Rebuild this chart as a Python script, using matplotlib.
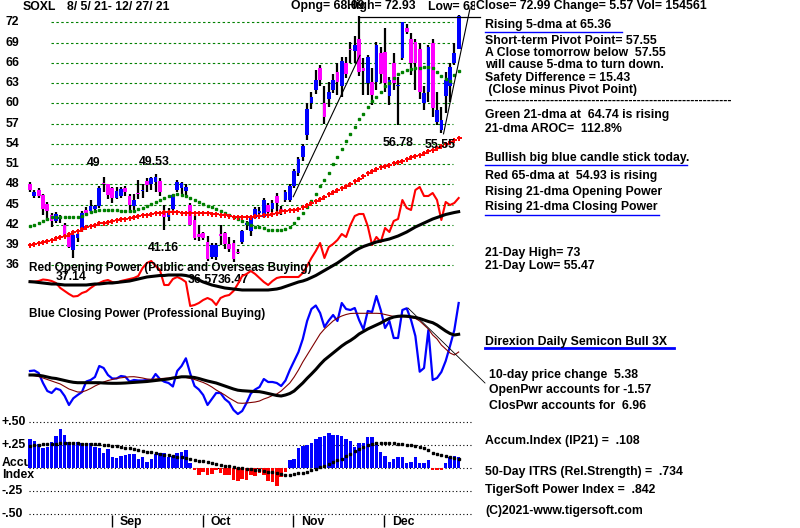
import matplotlib
matplotlib.use("Agg")
import matplotlib.pyplot as plt
from matplotlib.transforms import blended_transform_factory as blend

plt.rcParams['font.family'] = ['Liberation Sans', 'DejaVu Sans']
plt.rcParams['font.weight'] = 'bold'

W, H = 800, 528
FS = 8.8

# ---------------- data ----------------
opens = [48.1,46.3,47.2,46.4,45.1,43.4,42.6,42.8,42.0,40.5,
 38.3,40.0,41.3,44.2,44.1,44.4,44.8,48.2,48.0,47.4,
 46.0,46.2,47.4,46.2,44.8,46.7,47.0,48.5,48.1,48.3,
 48.5,43.9,43.2,44.4,47.2,47.4,47.0,45.0,42.7,40.6,
 40.8,39.5,37.3,37.2,40.6,40.8,39.1,39.3,38.0,39.5,
 41.9,41.1,43.0,43.8,43.2,44.9,44.4,46.2,44.4,45.7,
 45.7,47.7,49.6,52.1,55.3,60.0,62.0,65.3,60.0,60.6,
 62.0,64.7,62.5,65.9,68.1,67.8,69.5,65.2,63.0,63.2,
 63.2,67.4,67.6,61.1,65.9,62.5,66.7,71.1,69.5,69.1,
 68.0,60.0,61.7,69.0,57.3,56.1,61.1,62.5,65.9,68.09]
highs = [48.4,47.2,47.5,46.6,45.4,43.7,43.9,43.5,42.2,40.8,
 40.8,40.8,44.0,44.6,45.7,45.0,47.8,49.04,48.1,47.6,
 47.6,47.6,47.7,46.5,46.5,48.6,48.0,48.9,49.1,49.53,
 48.9,45.0,44.5,46.6,48.6,48.4,48.0,45.3,43.5,42.0,
 41.0,40.4,39.3,39.3,42.0,41.0,40.2,39.8,38.4,41.3,
 42.6,43.2,44.6,44.7,45.9,45.3,45.7,46.7,44.8,47.2,
 48.0,50.2,52.0,54.0,60.0,61.7,64.9,65.7,62.6,63.2,
 64.4,65.9,66.9,66.9,69.1,69.9,72.93,66.7,67.2,65.2,
 69.1,68.4,71.1,63.9,67.4,63.9,72.1,71.8,70.4,69.5,
 69.0,62.5,68.6,69.5,61.7,59.5,64.7,65.9,68.9,73.1]
lows = [46.9,46.0,45.9,43.5,42.6,41.6,42.2,42.3,40.0,38.5,
 37.14,39.5,41.0,43.5,43.7,43.8,44.5,46.9,45.8,45.3,
 45.8,45.9,46.2,43.7,44.2,45.8,45.9,46.9,47.2,46.9,
 46.2,41.16,42.5,44.0,46.8,46.6,46.4,41.9,39.8,39.6,
 39.8,36.57,36.9,36.8,39.0,38.4,37.9,36.47,37.6,39.2,
 41.2,40.4,42.8,43.5,43.0,43.6,43.9,43.4,43.5,45.4,
 45.4,47.4,49.3,51.5,54.6,59.1,61.4,62.6,57.0,59.4,
 61.5,61.2,61.0,63.7,65.9,65.9,64.0,61.2,61.2,59.7,
 62.0,63.0,61.7,59.7,62.0,56.78,66.4,70.2,64.2,62.0,
 60.7,59.0,60.2,58.0,56.8,55.55,58.5,60.2,65.7,68.0]
closes = [47.2,46.8,46.2,44.4,44.1,42.6,43.6,43.2,40.3,38.7,
 40.5,40.6,43.8,43.8,44.8,44.8,47.4,48.0,46.4,46.0,
 47.0,47.3,46.8,45.0,45.7,46.6,47.2,47.9,48.9,49.1,
 46.9,43.2,43.9,46.4,48.4,48.2,47.6,42.0,40.0,40.2,
 40.1,37.0,39.0,39.0,40.4,39.2,38.4,37.0,37.8,41.1,
 42.2,43.0,44.4,44.0,45.7,43.9,45.2,45.2,44.2,46.9,
 47.7,49.9,51.8,53.7,59.1,60.9,63.5,63.4,58.0,61.7,
 63.4,63.2,66.2,64.4,67.9,68.6,64.7,64.8,66.9,61.2,
 68.6,64.4,63.0,63.4,63.0,62.7,72.0,70.6,65.9,65.9,
 61.7,61.5,68.3,59.3,59.0,57.5,63.5,65.4,67.42,72.99]

ma21 = [41.8,42.0,42.3,42.6,42.9,43.1,43.2,43.2,43.2,43.2,
 43.2,43.2,43.3,43.6,43.9,44.1,44.2,44.2,44.2,44.2,
 44.2,44.1,44.0,44.0,44.1,44.3,44.5,44.8,45.1,45.4,
 45.7,46.0,46.2,46.4,46.5,46.4,46.2,45.9,45.7,45.4,
 45.1,44.8,44.6,44.3,44.1,43.8,43.5,43.2,42.9,42.6,
 42.3,42.0,41.7,41.6,41.5,41.3,41.2,41.2,41.2,41.4,
 41.7,42.2,43.0,43.7,44.6,45.5,46.6,47.7,48.7,49.6,
 51.0,52.1,53.2,54.4,55.5,56.5,57.6,58.4,59.4,60.3,
 61.0,61.6,62.5,63.0,63.7,64.3,64.7,64.9,65.1,65.2,
 65.3,65.4,65.4,65.2,64.7,64.1,63.6,63.3,64.2,64.74]
ma65 = [39.0,39.15,39.3,39.45,39.6,39.8,40.0,40.2,40.4,40.6,
 40.9,41.1,41.4,41.6,41.8,42.0,42.2,42.3,42.45,42.55,
 42.7,42.8,42.9,43.05,43.2,43.3,43.4,43.5,43.6,43.7,
 43.75,43.85,43.9,43.9,43.85,43.8,43.8,43.8,43.8,43.8,
 43.75,43.7,43.65,43.6,43.5,43.4,43.3,43.2,43.2,43.2,
 43.2,43.2,43.25,43.3,43.4,43.5,43.6,43.8,44.0,44.1,
 44.15,44.2,44.3,44.6,44.9,45.2,45.5,45.8,46.1,46.5,
 46.9,47.2,47.5,47.8,48.1,48.5,48.8,49.2,49.6,49.9,
 50.2,50.5,50.7,50.9,51.1,51.3,51.5,51.8,52.0,52.2,
 52.4,52.7,52.9,53.1,53.4,53.7,54.0,54.3,54.6,54.93]

open_power = [18.3,18.3,19,20.5,20,19,17,12,9,6,
 3.5,4,7,8.5,12,15,17,19,20,18,
 17,19,20,21,22,24,32,37,39,34,
 30,15,15,21,23,21,18,-6,-5,-3,
 0,2,0,-5,2,4,5,9,16,24,
 26,29,26,22,18,15,19,22,23,23,
 23,23,23,27,34,42,49,57,42,53,
 56,60,66,63,75,84,86,86,74,55,
 63,58,72,68,79,81,100,92,90,110,
 113,104,104,107,100,80,98,95,97,102]
open_power_ma = [18.3,18,17.5,17,16.5,16,16,15.5,15,15,
 15,15,15,15,15.5,16,16,16.5,17,17,
 17.5,18,18.5,19,20,21,22,23,23.5,24,
 24.5,24.5,25,25,25,25,24.5,23.5,22,20,
 18,16.5,15,14,13,12,11.5,11,10.5,10,
 10,10,10,10,10,10,10.5,11,12,13.5,
 15,16.5,18,19,20.5,22.5,24.5,27,29.5,32,
 34.5,37,40,43,46,49,51.5,53.5,55,56.5,
 58,59,60,61,62.5,64,66,68,70.5,73,
 75,77,79,81,82.5,84,85.5,86.5,87.5,88.3]

close_power = [49,49.5,47,37,29,27,31.5,30,24,15,
 21.7,25,28,38.5,40,43,54,52,45,41.5,
 41.5,44,43.3,38.5,40,39.5,39.5,40,39.3,46,
 41,38.3,37,33.5,49,54,61.7,46.5,34,30.5,
 25,15,21,27,27,21,17.5,10,6,9,
 17,26.5,30.5,33,41,38,38,37,34,39.5,
 50,59,68,81,99,111,114.5,107,93,99.5,
 105,99,117,111,110,112,100,90.5,109,108,
 124,110,92,99,82,82,110,111.7,100,84,
 48.3,52,90,40,42,48,59,74,90,117]
close_power_ma21 = [45,44.2,43.4,42,40.5,39,37.5,36,33.5,31,
 29.5,28,28,29.5,31.5,34,36,38,39.5,40.5,
 41.7,42.2,42.7,43.2,43.3,42.7,42,41,40.7,41,
 41.3,41.7,42,42.5,43,43.3,42.5,41.5,40.5,39,
 37.5,35.5,33,30,27.5,25,22,19.5,17,16.7,
 17,17.5,18,19,21,22.5,24.5,26,29,33,
 37,43,50,58,65,72,79,86,91,95,
 99,102,104,105.5,106.5,106.7,106.7,106.7,106.7,106.7,
 106.7,106.5,105.5,104.5,103.5,103.3,103.3,103,102.5,101.7,
 99,95,91,85,81,75,71,67,65,68]
close_power_ma65 = [45,45,44.7,44,43,42,41.5,40.5,39.5,38.5,
 37.7,37.3,37.3,37.3,37.3,37.3,37.3,37,36.8,36.7,
 36.7,36.8,37,37.3,37.6,37.9,38.2,38.5,39,39.5,
 40,40.5,41,42,42.5,43.2,43.2,43,42.5,41.5,
 40.2,39,38,37,35.5,34,32.5,31,29.8,29.3,
 29,28.7,28.5,28.3,27.5,26.5,25.5,24.5,24,25,
 26.5,29,33,37,41.7,46,50.5,55.5,60,63.5,
 67,70.5,74,77,79.5,82.5,86,88.5,91,93,
 95,97,99.5,101.5,103,103.7,104,103.8,103.2,102.5,
 101.5,100,98.5,97.3,95,92,89,86.5,85,85.7]

accum = [.319,.30,.264,.217,.236,.29,.351,.427,.362,.29,
 .27,.29,.279,.27,.27,.228,.217,.163,.206,.127,
 .116,.134,.145,.156,.156,.098,.12,.072,.098,.152,
 .163,.163,.12,.134,.163,.181,.20,.062,-.018,-.072,
 -.036,-.072,-.062,-.018,-.054,-.072,-.072,-.127,-.134,-.12,
 -.127,-.072,-.083,-.054,-.072,-.138,-.145,-.188,-.09,-.036,
 .09,.10,.217,.243,.254,.279,.319,.344,.351,.388,
 .362,.362,.351,.315,.30,.236,.279,.279,.344,.344,
 .29,.181,.134,.072,.098,.12,.12,.054,.072,.12,
 .062,.054,.09,-.02,-.02,-.02,.054,.12,.134,.12]
accum_ma = [.243,.25,.255,.26,.262,.265,.268,.27,.27,.27,
 .27,.27,.268,.266,.265,.264,.262,.258,.252,.246,
 .24,.233,.225,.218,.21,.2,.19,.182,.175,.165,
 .155,.148,.14,.133,.126,.12,.11,.10,.092,.083,
 .075,.066,.057,.048,.04,.03,.02,.01,.005,0,
 -.008,-.012,-.016,-.022,-.03,-.036,-.045,-.055,-.065,-.072,
 -.068,-.063,-.055,-.047,-.035,-.02,-.005,.012,.03,.05,
 .07,.085,.10,.13,.16,.185,.21,.235,.255,.265,
 .272,.277,.279,.278,.273,.268,.262,.256,.248,.24,
 .232,.22,.20,.17,.155,.145,.135,.125,.115,.10]

price_ticks = [72, 69, 66, 63, 60, 57, 54, 51, 48, 45, 42, 39, 36]
accum_ticks = [0.50, 0.25, 0.0, -0.25, -0.50]
accum_tick_labels = ["+.50", "+.25", "", "-.25", "-.50"]
months = ["Sep", "Oct", "Nov", "Dec"]
month_start = [19, 40, 61, 82]

high_labels = [(14.7, 51.1, "49"), (28.75, 51.35, "49.53")]
low_labels = [(9.6, 34.3, "37.14"), (30.8, 38.5, "41.16"), (40.1, 33.75, "36.57"),
              (46.9, 33.75, "36.47"), (84.9, 54.07, "56.78"), (94.7, 53.8, "55.55")]

# ---------------- layout helpers ----------------
fig = plt.figure(figsize=(W / 100, H / 100), dpi=100)
fig.patch.set_facecolor("white")

X0_PX, STEP = 30.0, 4.33
L_PX, R_PX = 28, 490
XLIM = ((L_PX - X0_PX) / STEP, (R_PX - X0_PX) / STEP)


def px2idx(p):
    return (p - X0_PX) / STEP


def add_ax(top, bottom, ylim, z=1):
    ax = fig.add_axes([L_PX / W, 1 - bottom / H, (R_PX - L_PX) / W, (bottom - top) / H])
    ax.set_xlim(*XLIM)
    ax.set_ylim(*ylim)
    ax.axis("off")
    ax.set_zorder(z)
    return ax


def ftext(x, y, s, **kw):
    kw.setdefault("fontsize", FS)
    kw.setdefault("fontweight", "bold")
    return fig.text(x / W, 1 - y / H, s, ha=kw.pop("ha", "left"), va=kw.pop("va", "center"), **kw)


days = list(range(len(closes)))
BLUE, MAG, RED, GREEN = "#0000FF", "#FF00FF", "#FF0000", "#008000"

# ---------------- price panel ----------------
axp = add_ax(0, 280, (33.82, 75.30))
axp.hlines(price_ticks, px2idx(50.7), px2idx(453), colors=GREEN, lw=0.8,
           linestyles=(0, (2.2, 2.2)), zorder=1)
axp.vlines(days, lows, highs, colors="black", lw=1.6, zorder=3)
for i in days:
    o, c = opens[i], closes[i]
    bot = min(o, c)
    hgt = max(abs(c - o), 0.18)
    axp.bar(i, hgt, bottom=bot, width=0.85, color=BLUE if c >= o else MAG,
            linewidth=0, zorder=4)
axp.plot(days, ma21, ls="none", marker="s", ms=1.6, color=GREEN, zorder=5)
axp.plot(days, ma65, ls="none", marker="+", ms=3.6, mew=1.4, color=RED, zorder=5)
# trend lines
axp.plot([60.8, 76.2], [46.16, 67.1], color="black", lw=0.8, zorder=6)
axp.plot([76.2, px2idx(480)], [72.74, 72.74], color="black", lw=0.9, zorder=6, clip_on=False)
axp.plot([95.5, 101.6], [55.47, 74.0], color="black", lw=0.8, zorder=6)

trp = blend(fig.transFigure, axp.transData)
for v in price_ticks:
    fig.text(6 / W, v, str(v), transform=trp, ha="left", va="center",
             fontsize=FS, fontweight="bold")
for x, y, s in high_labels + low_labels:
    axp.text(x, y, s, ha="center", va="center", fontsize=FS,
             fontweight="bold", zorder=7, clip_on=False)

# ---------------- opening power ----------------
axo = add_ax(170, 310, (-10, 130), z=2)
axo.plot(days, open_power, color=RED, lw=1.5, zorder=3)
axo.plot(days, open_power_ma, color="black", lw=2.2, zorder=4)

# ---------------- closing power ----------------
axc = add_ax(285, 420, (0, 135), z=2)
axc.plot(days, close_power, color=BLUE, lw=1.6, zorder=3)
axc.plot(days, close_power_ma21, color="#800000", lw=0.8, zorder=4)
axc.plot(days, close_power_ma65, color="black", lw=2.2, zorder=5)
axc.plot([87.3, px2idx(485)], [112, 37], color="black", lw=0.6, zorder=6, clip_on=False)

# ---------------- accumulation index ----------------
ka = 0.25 / 23.0
axa = add_ax(410, 520, ((468.3 - 520) * ka, (468.3 - 410) * ka), z=2)
axa.hlines(accum_ticks, px2idx(29), px2idx(472), colors="black", lw=0.8,
           linestyles=(0, (1, 2.2)), zorder=1)
axa.bar(days, accum, width=0.8, color=[BLUE if a >= 0 else RED for a in accum],
        linewidth=0, zorder=3)
axa.plot(days, accum_ma, ls="none", marker="s", ms=1.7, color="black", zorder=4)
tra = blend(fig.transFigure, axa.transData)
for v, s in zip(accum_ticks, accum_tick_labels):
    if s:
        fig.text(2 / W, v, s, transform=tra, ha="left", va="center",
                 fontsize=FS, fontweight="bold")
ftext(2, 462.7, "Accu", zorder=0)
ftext(2, 475, "Index", zorder=0)

# ---------------- date axis ----------------
axd = add_ax(514, 528, (0, 1))
for m, s in zip(month_start, months):
    axd.vlines(m - 0.15, 0.05, 0.95, colors="black", lw=1)
    axd.text(m + 1.7, 0.45, s, ha="left", va="center", fontsize=FS, fontweight="bold")

# ---------------- texts ----------------
ftext(22.7, 6.5, "SOXL")
ftext(66.7, 6.5, "8/ 5/ 21- 12/ 27/ 21")
ftext(291, 6.5, "Opng= 68.09")
ftext(347, 6.5, "High= 72.93")
ftext(428, 6.5, "Low= 68.00")
ftext(476, 6.5, "Close= 72.99 Change= 5.57 Vol= 154561", zorder=5,
      bbox=dict(facecolor="white", edgecolor="none", pad=0.5))

ftext(29, 268.3, "Red Opening Power (Public and Overseas Buying)", fontsize=8.5, zorder=10)
ftext(29, 314.3, "Blue Closing Power (Professional Buying)", fontsize=8.5)

right = [
    (485, 25, "Rising 5-dma at 65.36"),
    (485, 40.7, "Short-term Pivot Point= 57.55"),
    (485, 52.7, "A Close tomorrow below  57.55"),
    (485, 65, "will cause 5-dma to turn down."),
    (485, 77.7, "Safety Difference = 15.43"),
    (485, 90, " (Close minus Pivot Point)"),
    (485, 100.5, "-" * 60),
    (485, 115, "Green 21-dma at  64.74 is rising"),
    (485, 129.3, "21-dma AROC=  112.8%"),
    (485, 157.7, "Bullish big blue candle stick today."),
    (485, 175.7, "Red 65-dma at  54.93 is rising"),
    (485, 191.7, "Rising 21-dma Opening Power"),
    (485, 206.7, "Rising 21-dma Closing Power"),
    (485, 252.7, "21-Day High= 73"),
    (485, 266, "21-Day Low= 55.47"),
    (485, 341.7, "Direxion Daily Semicon Bull 3X"),
    (489, 375, "10-day price change  5.38"),
    (489, 390, "OpenPwr accounts for -1.57"),
    (489, 405.7, "ClosPwr accounts for  6.96"),
    (485, 441, "Accum.Index (IP21) =  .108"),
    (485, 471.7, "50-Day ITRS (Rel.Strength) =  .734"),
    (485, 490, "TigerSoft Power Index =  .842"),
    (485, 510.7, "(C)2021-www.tigersoft.com"),
]
for x, y, s in right:
    ftext(x, y, s)

for y, x1, lw in [(32.3, 622, 1.0), (165, 687, 1.0), (215, 659, 1.0), (348.3, 674, 2.0)]:
    fig.add_artist(plt.Line2D([485 / W, x1 / W], [1 - y / H, 1 - y / H],
                              color=BLUE, lw=lw, transform=fig.transFigure))

fig.savefig("out.png", dpi=100, facecolor="white")
